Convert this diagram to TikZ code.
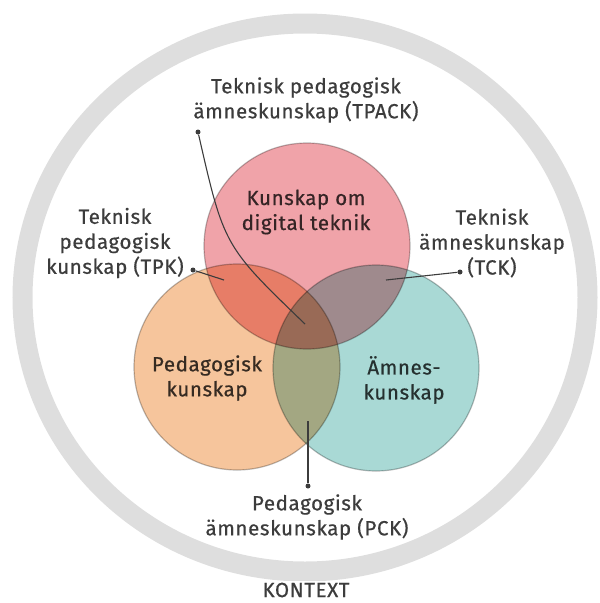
\documentclass[tikz,border=0pt]{standalone}
\usepackage{fontspec}
\setmainfont{Fira Sans}
\newfontfamily\lblfont{Fira Sans}[FakeBold=0.6,LetterSpace=3]
\definecolor{techpink}{HTML}{F0A3A9}
\definecolor{pedorange}{HTML}{F6C59C}
\definecolor{contteal}{HTML}{A9D9D5}
\definecolor{ringgray}{HTML}{DEDEDE}
\definecolor{inkgray}{HTML}{3C3C3C}

\begin{document}
\begin{tikzpicture}[x=1pt,y=-1pt,
	venn/.style={draw=black!45,draw opacity=0.6,line width=1.2pt,circle,inner sep=0,minimum size=206pt,blend mode=multiply},
	lbltext/.style={align=center,text=inkgray,font=\lblfont\fontsize{20.5}{25}\selectfont},
	pindot/.style={circle,fill=inkgray,inner sep=0,minimum size=5pt},
	pinline/.style={draw=inkgray,line width=1.1pt}]
	\useasboundingbox (0,0) rectangle (600,603);
	% context ring
	\draw[ringgray,line width=20pt] (305,297.5) ellipse [x radius=282.5,y radius=274];
	% the three knowledge areas
	\node[venn,fill=techpink] (tech) at (307,246) {};
	\node[venn,fill=pedorange] (ped) at (237,367) {};
	\node[venn,fill=contteal] (cont) at (376,368) {};
	\node[lbltext,text=techpink!22!black] (techtxt) at (306,212) {Kunskap om\\digital teknik};
	\node[lbltext,text=pedorange!22!black] (pedtxt) at (207,378) {Pedagogisk\\kunskap};
	\node[lbltext,text=contteal!22!black] (conttxt) at (404,380) {Ämnes-\\kunskap};
	% intersections
	\node[lbltext] (tpack) at (306,100) {Teknisk pedagogisk\\ämneskunskap (TPACK)};
	\node[lbltext] (tpk) at (115,243) {Teknisk\\pedagogisk\\kunskap (TPK)};
	\node[lbltext] (tck) at (492,243) {Teknisk\\ämneskunskap\\(TCK)};
	\node[lbltext] (pck) at (307,517) {Pedagogisk\\ämneskunskap (PCK)};
	\node[lbltext,fill=white,inner sep=2pt] (kontext) at (306,590) {KONTEXT};
	\node[pindot] (tpackdot) at (198,132) {};
	\node[pindot] (tpkdot) at (193,270) {};
	\node[pindot] (tckdot) at (460,272) {};
	\node[pindot] (pckdot) at (308,486) {};
	\coordinate (tpackend) at (305,324);
	\coordinate (tpkend) at (224,280);
	\coordinate (tckend) at (386,280);
	\coordinate (pckend) at (308,421);
	\draw[pinline] (tpackdot) .. controls (224,246) .. (tpackend);
	\draw[pinline] (tpkdot) -- (tpkend);
	\draw[pinline] (tckdot) -- (tckend);
	\draw[pinline] (pckdot) -- (pckend);
\end{tikzpicture}
\end{document}
